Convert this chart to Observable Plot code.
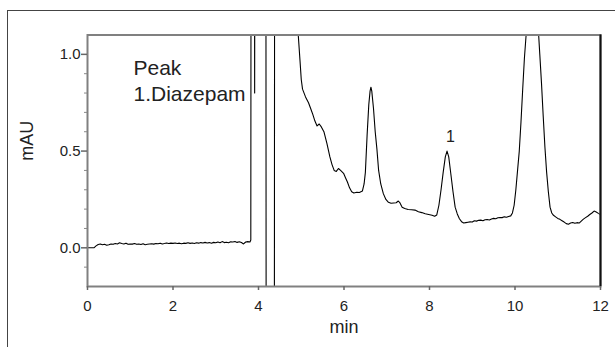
<!DOCTYPE html>
<html>
<head>
<meta charset="utf-8">
<script src="https://cdn.jsdelivr.net/npm/d3@7"></script>
<script src="https://cdn.jsdelivr.net/npm/@observablehq/plot@0.6"></script>
<style>
  html, body { margin: 0; padding: 0; background: #fff; }
  #wrap { position: relative; width: 615px; height: 347px; overflow: hidden; }
  #border { position: absolute; left: 7px; top: 10px; right: -5px; bottom: -5px;
            border-left: 1.5px solid #444; border-top: 1.5px solid #444; }
  #chart { position: absolute; left: 0; top: 0; }
</style>
</head>
<body>
<div id="wrap"><div id="border"></div><div id="chart"></div></div>
<script>
// Retention time (min)
const time = [
  0, 0.15, 0.2, 0.25, 0.3, 0.35, 0.4, 0.45, 0.5, 0.55, 0.6, 0.65, 0.7, 0.75, 0.8, 0.85, 0.9, 0.95,
  1.0, 1.05, 1.1, 1.15, 1.2, 1.25, 1.3, 1.35, 1.4, 1.45, 1.5, 1.55, 1.6, 1.65, 1.7, 1.75, 1.8, 1.85, 1.9, 1.95,
  2.0, 2.05, 2.1, 2.15, 2.2, 2.25, 2.3, 2.35, 2.4, 2.45, 2.5, 2.55, 2.6, 2.65, 2.7, 2.75, 2.8, 2.85, 2.9, 2.95,
  3.0, 3.05, 3.1, 3.15, 3.2, 3.25, 3.3, 3.35, 3.4, 3.45, 3.5, 3.55, 3.6, 3.65, 3.7, 3.75, 3.8, 3.82,
  3.83, 3.9, 3.91, 3.92, 4.17, 4.18, 4.37, 4.38, 4.88,
  4.93, 4.97, 5.0, 5.03, 5.1, 5.17, 5.22, 5.27, 5.32, 5.37, 5.42, 5.47, 5.53, 5.6, 5.67, 5.72, 5.77, 5.82, 5.87, 5.92, 5.99,
  6.04, 6.08, 6.13, 6.18, 6.23, 6.3, 6.36, 6.43, 6.47, 6.5, 6.54, 6.58, 6.61, 6.63, 6.65, 6.69, 6.73, 6.77, 6.81, 6.86, 6.92, 6.98,
  7.04, 7.1, 7.16, 7.22, 7.27, 7.31, 7.36, 7.42, 7.5, 7.58, 7.66, 7.74, 7.82, 7.9, 7.98,
  8.06, 8.12, 8.17, 8.22, 8.27, 8.32, 8.37, 8.41, 8.45, 8.5, 8.55, 8.6, 8.65, 8.7, 8.75, 8.8, 8.85, 8.9, 8.95,
  9.0, 9.05, 9.1, 9.15, 9.2, 9.25, 9.3, 9.35, 9.4, 9.45, 9.5, 9.55, 9.6, 9.65, 9.7, 9.75, 9.8, 9.85, 9.9, 9.94, 9.98,
  10.02, 10.06, 10.1, 10.14, 10.18, 10.22, 10.26, 10.3, 10.36, 10.42, 10.48, 10.54, 10.58, 10.62, 10.66, 10.7, 10.74, 10.78, 10.82, 10.86, 10.9, 10.95,
  11.0, 11.05, 11.1, 11.15, 11.2, 11.25, 11.3, 11.35, 11.4, 11.45, 11.5, 11.55, 11.6, 11.65, 11.7, 11.75, 11.8, 11.85, 11.9, 11.95, 12.0
];
// Detector signal (mAU)
const signal = [
  0.0, 0.0, 0.01, 0.017, 0.02, 0.016, 0.018, 0.013, 0.016, 0.02, 0.018, 0.022, 0.02, 0.026, 0.022, 0.02, 0.024, 0.018,
  0.02, 0.019, 0.022, 0.018, 0.02, 0.017, 0.021, 0.016, 0.018, 0.02, 0.021, 0.019, 0.022, 0.021, 0.024, 0.02, 0.022, 0.025, 0.022, 0.024,
  0.023, 0.025, 0.022, 0.024, 0.021, 0.024, 0.023, 0.026, 0.023, 0.025, 0.022, 0.026, 0.024, 0.027, 0.025, 0.028, 0.025, 0.027, 0.024, 0.028,
  0.026, 0.03, 0.026, 0.032, 0.027, 0.029, 0.026, 0.031, 0.03, 0.033, 0.028, 0.031, 0.027, 0.02, 0.03, 0.032, 0.03, 0.04,
  3.0, 3.0, 0.80, 3.0, 3.0, -1.0, -1.0, 3.0, 2.0,
  1.1, 0.97, 0.87, 0.82, 0.78, 0.75, 0.72, 0.69, 0.655, 0.63, 0.64, 0.625, 0.60, 0.54, 0.47, 0.43, 0.40, 0.395, 0.41, 0.40, 0.385,
  0.36, 0.34, 0.31, 0.29, 0.283, 0.287, 0.286, 0.293, 0.33, 0.39, 0.58, 0.74, 0.81, 0.83, 0.81, 0.72, 0.6, 0.51, 0.40, 0.33, 0.28, 0.25,
  0.235, 0.23, 0.232, 0.233, 0.242, 0.232, 0.21, 0.203, 0.198, 0.197, 0.195, 0.186, 0.182, 0.176, 0.172,
  0.168, 0.163, 0.17, 0.22, 0.30, 0.39, 0.47, 0.50, 0.47, 0.38, 0.29, 0.21, 0.175, 0.15, 0.135, 0.128, 0.13, 0.132, 0.134,
  0.133, 0.14, 0.138, 0.142, 0.143, 0.14, 0.145, 0.146, 0.144, 0.149, 0.152, 0.15, 0.155, 0.157, 0.156, 0.16, 0.158, 0.162, 0.165, 0.18, 0.22,
  0.3, 0.4, 0.5, 0.65, 0.82, 0.98, 1.1, 1.25, 1.4, 1.45, 1.35, 1.15, 1.0, 0.85, 0.68, 0.52, 0.39, 0.29, 0.21, 0.18, 0.168, 0.16,
  0.152, 0.147, 0.14, 0.133, 0.125, 0.122, 0.128, 0.131, 0.127, 0.13, 0.128, 0.138, 0.148, 0.156, 0.163, 0.172, 0.18, 0.19, 0.185, 0.178, 0.172
];
const xDomain = [0, 12];
const yDomain = [-0.2, 1.1];
const xTicks = [0, 2, 4, 6, 8, 10, 12];
const yMajorTicks = [0.0, 0.5, 1.0];
const yMinorTicks = [-0.1, 0.1, 0.2, 0.3, 0.4, 0.6, 0.7, 0.8, 0.9];
const peakLabels = ["1"];
const peakTimes = [8.49];
const peakLabelValues = [0.573];
const legendLines = ["Peak", "1.Diazepam"];
const xLabel = "min";
const yLabel = "mAU";

const data = time.map((t, i) => ({t, v: signal[i]}));
const peaks = peakLabels.map((s, i) => ({s, t: peakTimes[i], v: peakLabelValues[i]}));

const chart = Plot.plot({
  width: 615,
  height: 347,
  marginLeft: 87,
  marginRight: 15,
  marginTop: 34.5,
  marginBottom: 61,
  x: {domain: xDomain},
  y: {domain: yDomain},
  style: {fontFamily: "'Liberation Sans', Arial, sans-serif", background: "transparent", color: "#222"},
  marks: [
    Plot.line(data, {x: "t", y: "v", stroke: "#000", strokeWidth: 1.1, clip: true}),
    Plot.frame({stroke: "#808080", strokeWidth: 2}),
    Plot.ruleX([xDomain[1]], {stroke: "#111", strokeWidth: 2}),
    Plot.axisX(xTicks, {tickSize: 4, tickPadding: 10, fontSize: 15, stroke: "#666", strokeWidth: 1.5, label: null, tickFormat: d => String(d)}),
    Plot.axisY(yMajorTicks, {tickSize: 6, tickPadding: 1, fontSize: 15, stroke: "#666", strokeWidth: 1.5, label: null, tickFormat: d3.format(".1f")}),
    Plot.axisY(yMinorTicks, {tickSize: 3, stroke: "#888", strokeWidth: 1, label: null, tickFormat: () => ""}),
    Plot.text([legendLines.join("\n")], {frameAnchor: "top-left", dx: 46, dy: 21, lineAnchor: "top", textAnchor: "start", lineHeight: 1.24, fontSize: 21, fill: "#222"}),
    Plot.text(peaks, {x: "t", y: "v", text: "s", fontSize: 16, fill: "#222"}),
    Plot.text([xLabel], {frameAnchor: "bottom", dy: 34, lineAnchor: "top", fontSize: 18, fill: "#222"}),
    Plot.text([yLabel], {frameAnchor: "left", dx: -60, rotate: -90, fontSize: 18, fill: "#222"})
  ]
});
document.getElementById("chart").appendChild(chart);
</script>
</body>
</html>
